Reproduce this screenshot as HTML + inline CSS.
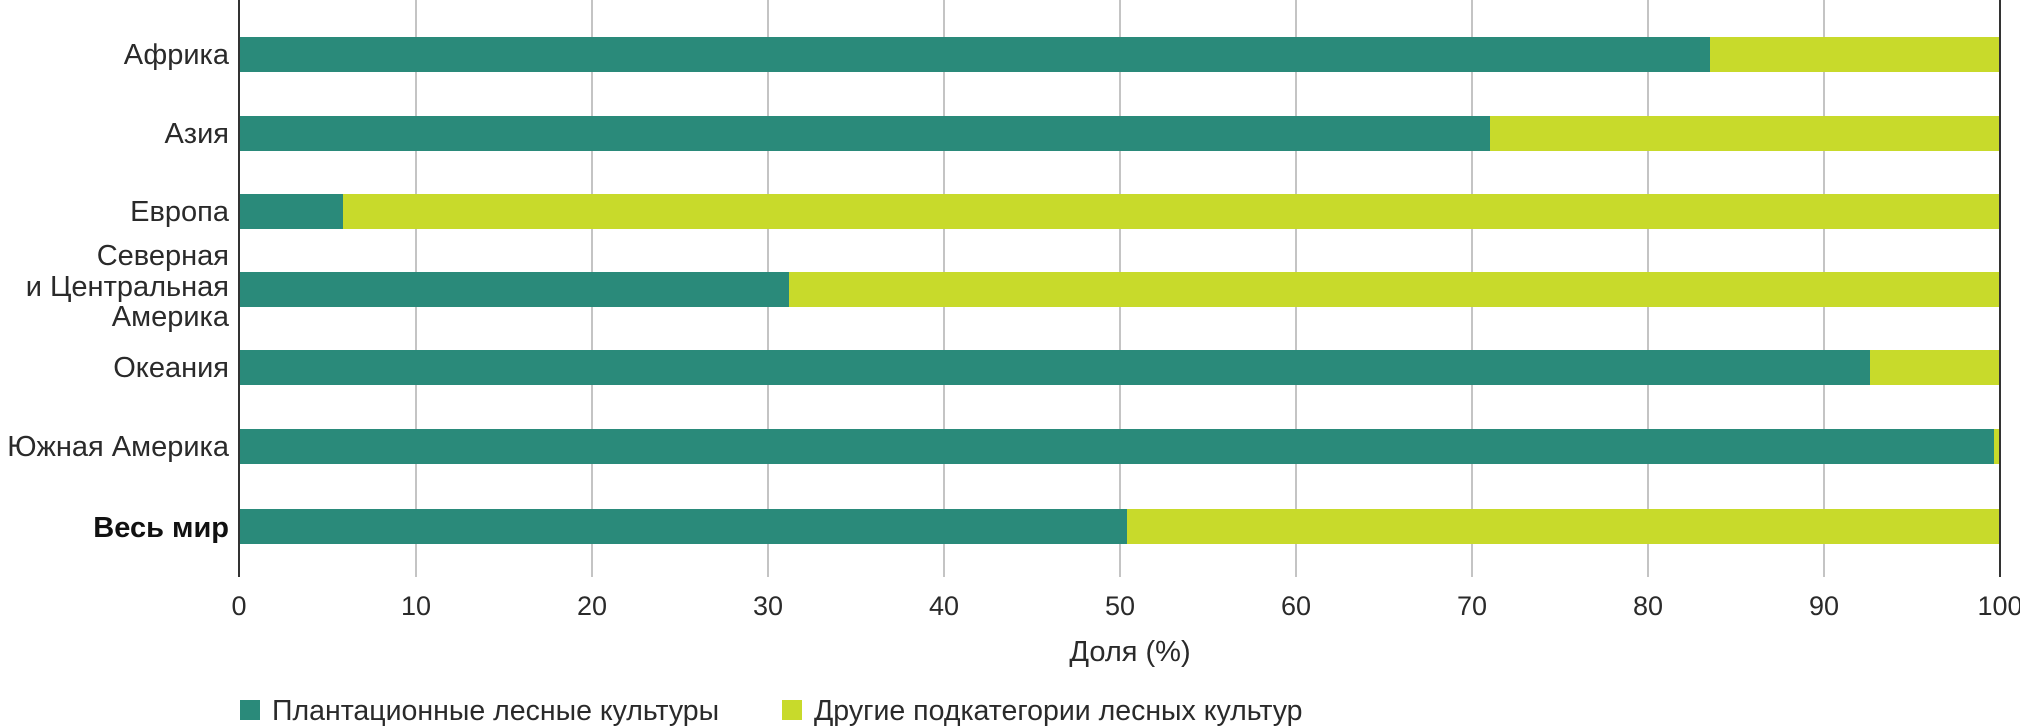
<!DOCTYPE html>
<html><head><meta charset="utf-8"><style>
html,body{margin:0;padding:0;background:#fff;}
svg{display:block;}
text{font-family:"Liberation Sans","DejaVu Sans",sans-serif;fill:#2a2a2a;}
</style></head><body>
<svg width="2020" height="728" viewBox="0 0 2020 728" xmlns="http://www.w3.org/2000/svg">
<g stroke="#c4c4c4" stroke-width="2">
<line x1="416" y1="0" x2="416" y2="577"/><line x1="592" y1="0" x2="592" y2="577"/>
<line x1="768" y1="0" x2="768" y2="577"/><line x1="944" y1="0" x2="944" y2="577"/>
<line x1="1120" y1="0" x2="1120" y2="577"/><line x1="1296" y1="0" x2="1296" y2="577"/>
<line x1="1472" y1="0" x2="1472" y2="577"/><line x1="1648" y1="0" x2="1648" y2="577"/>
<line x1="1824" y1="0" x2="1824" y2="577"/>
</g>
<g>
<rect x="240" y="37" width="1760" height="35" fill="#c8da2b"/><rect x="240" y="37" width="1470" height="35" fill="#2a8a7a"/>
<rect x="240" y="116" width="1760" height="35" fill="#c8da2b"/><rect x="240" y="116" width="1250" height="35" fill="#2a8a7a"/>
<rect x="240" y="194" width="1760" height="35" fill="#c8da2b"/><rect x="240" y="194" width="103" height="35" fill="#2a8a7a"/>
<rect x="240" y="272" width="1760" height="35" fill="#c8da2b"/><rect x="240" y="272" width="549" height="35" fill="#2a8a7a"/>
<rect x="240" y="350" width="1760" height="35" fill="#c8da2b"/><rect x="240" y="350" width="1630" height="35" fill="#2a8a7a"/>
<rect x="240" y="429" width="1760" height="35" fill="#c8da2b"/><rect x="240" y="429" width="1754" height="35" fill="#2a8a7a"/>
<rect x="240" y="509" width="1760" height="35" fill="#c8da2b"/><rect x="240" y="509" width="887" height="35" fill="#2a8a7a"/>
</g>
<line x1="239" y1="0" x2="239" y2="577" stroke="#333" stroke-width="2"/>
<line x1="2000" y1="0" x2="2000" y2="577" stroke="#333" stroke-width="2"/>
<g font-size="29" text-anchor="end">
<text x="229" y="64">Африка</text>
<text x="229" y="143">Азия</text>
<text x="229" y="221">Европа</text>
<text x="229" y="265">Северная</text>
<text x="229" y="296">и Центральная</text>
<text x="229" y="326">Америка</text>
<text x="229" y="377">Океания</text>
<text x="229" y="456">Южная Америка</text>
<text x="229" y="537" font-weight="bold" style="fill:#111">Весь мир</text>
</g>
<g font-size="27" text-anchor="middle">
<text x="239" y="615">0</text><text x="416" y="615">10</text><text x="592" y="615">20</text>
<text x="768" y="615">30</text><text x="944" y="615">40</text><text x="1120" y="615">50</text>
<text x="1296" y="615">60</text><text x="1472" y="615">70</text><text x="1648" y="615">80</text>
<text x="1824" y="615">90</text><text x="2000" y="615">100</text>
<text x="1130" y="661" font-size="29">Доля (%)</text>
</g>
<rect x="240" y="700" width="20" height="20" fill="#2a8a7a"/>
<text x="272" y="720" font-size="28.5">Плантационные лесные культуры</text>
<rect x="782" y="700" width="20" height="20" fill="#c8da2b"/>
<text x="814" y="720" font-size="28.5">Другие подкатегории лесных культур</text>
</svg>
</body></html>
